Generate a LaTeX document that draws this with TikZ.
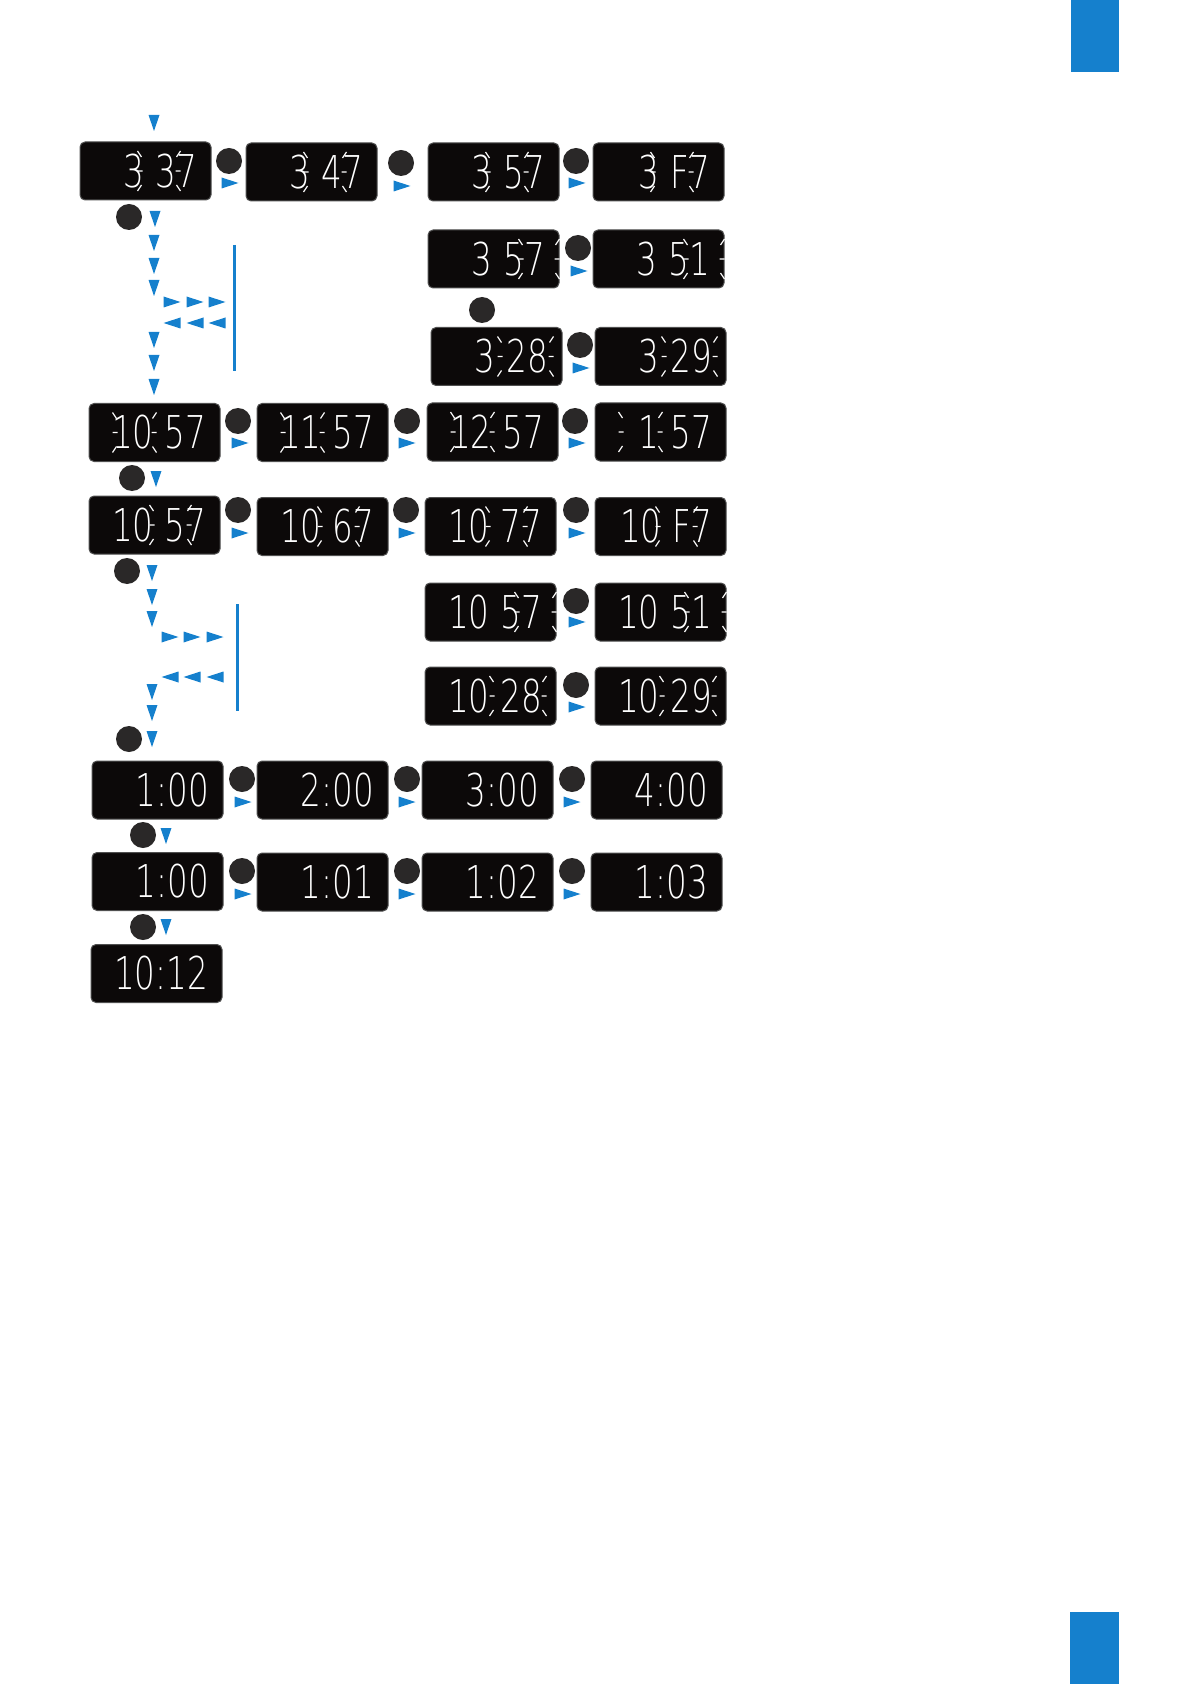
\documentclass[tikz,border=0pt]{standalone}
\usepackage{fontspec}
\usepackage{tikz}
\usetikzlibrary{calc}
\newfontfamily\lcdfont{DejaVu Sans}[UprightFont={* ExtraLight},FakeStretch=0.72]

\definecolor{tabblue}{RGB}{21,128,205}
\definecolor{lcdblack}{RGB}{12,9,9}
\definecolor{lcdedge}{RGB}{80,80,80}
\definecolor{btngray}{RGB}{42,40,40}

\newcommand\nocolon{\phantom{:}}
\newcommand\nodigit{\phantom{0}}
% blinking marks left and right of the flashing digits
\newcommand\rays[3]{%
  \path (#1.east) ++(#2,0) coordinate (rl) (#1.east) ++(#3,0) coordinate (rr);
  \draw[ray] (rl) ++(-3,-20) -- ++(4,6) (rl) ++(-3,0) -- ++(5,0) (rl) ++(1,14) -- ++(-4,6)
             (rr) ++(3,-20) -- ++(-4,6) (rr) ++(-2,0) -- ++(5,0) (rr) ++(-1,14) -- ++(4,6);}

\tikzset{
  lcd/.style={rectangle, rounded corners=2.5pt, fill=lcdblack, draw=lcdedge, line width=0.5pt,
    minimum height=29pt, text width=51.5pt, align=flush right, inner xsep=7pt, inner ysep=0pt,
    font=\lcdfont\fontsize{22.6}{24}\selectfont, text=white},
  btn/.style={circle, fill=btngray, minimum size=13pt, inner sep=0pt},
  ray/.style={white, line width=0.6pt},
  tdown/.pic={\fill[tabblue] (-5.5,-8) -- (5.5,-8) -- (0,8) -- cycle;},
  tright/.pic={\fill[tabblue] (-8.5,-5.5) -- (8.5,0) -- (-8.5,5.5) -- cycle;},
  tleft/.pic={\fill[tabblue] (8.5,-5.5) -- (-8.5,0) -- (8.5,5.5) -- cycle;},
}

\begin{document}
\begin{tikzpicture}[x=0.5pt,y=-0.5pt]
\useasboundingbox (0,0) rectangle (1191,1684);
\fill[tabblue] (1071,0) rectangle (1119,72);
\fill[tabblue] (1070,1612) rectangle (1119,1684);

% hours
\node[lcd] (d1-1) at (145.5,171) {3\nocolon37};
\node[lcd] (d1-2) at (311.5,172) {3\nocolon47};
\node[lcd] (d1-3) at (493.5,172) {3\nocolon57};
\node[lcd] (d1-4) at (658.5,172) {3\nocolon F7};
\node[lcd] (d2-3) at (493.5,259) {3\nocolon57};
\node[lcd] (d2-4) at (658.5,259) {3\nocolon51};
\node[lcd] (d3-3) at (496.5,356.5) {3\nocolon28};
\node[lcd] (d3-4) at (660.5,356.5) {3\nocolon29};
\node[lcd] (d4-1) at (154.5,432.5) {10\nocolon57};
\node[lcd] (d4-2) at (322.5,432.5) {11\nocolon57};
\node[lcd] (d4-3) at (492.5,432) {12\nocolon57};
\node[lcd] (d4-4) at (660.5,432) {\nodigit1\nocolon57};
\node[lcd] (d5-1) at (154.5,525) {10\nocolon57};
\node[lcd] (d5-2) at (322.5,526.5) {10\nocolon67};
\node[lcd] (d5-3) at (490.5,526.5) {10\nocolon77};
\node[lcd] (d5-4) at (660.5,526.5) {10\nocolon F7};
\node[lcd] (d6-3) at (490.5,612) {10\nocolon57};
\node[lcd] (d6-4) at (660.5,612) {10\nocolon51};
\node[lcd] (d7-3) at (490.5,696) {10\nocolon28};
\node[lcd] (d7-4) at (660.5,696) {10\nocolon29};
\node[lcd] (d8-1) at (157.5,790) {1:00};
\node[lcd] (d8-2) at (322.5,790) {2:00};
\node[lcd] (d8-3) at (487.5,790) {3:00};
\node[lcd] (d8-4) at (656.5,790) {4:00};
\node[lcd] (d9-1) at (157.5,881.5) {1:00};
\node[lcd] (d9-2) at (322.5,882) {1:01};
\node[lcd] (d9-3) at (487.5,882) {1:02};
\node[lcd] (d9-4) at (656.5,882) {1:03};
\node[lcd] (d10-1) at (156.5,973.5) {10:12};

\rays{d1-1}{-71}{-34} \rays{d1-2}{-71}{-34} \rays{d1-3}{-71}{-34} \rays{d1-4}{-71}{-34}
\rays{d2-3}{-38}{-3} \rays{d2-4}{-38}{-3}
\rays{d3-3}{-62}{-12} \rays{d3-4}{-62}{-12}
\rays{d4-1}{-105}{-67} \rays{d4-2}{-105}{-67} \rays{d4-3}{-105}{-67} \rays{d4-4}{-105}{-67}
\rays{d5-1}{-68}{-32} \rays{d5-2}{-68}{-32} \rays{d5-3}{-68}{-32} \rays{d5-4}{-68}{-32}
\rays{d6-3}{-39}{-3} \rays{d6-4}{-39}{-3}
\rays{d7-3}{-64}{-13} \rays{d7-4}{-64}{-13}

% buttons
\node[btn] (b1-1) at (229,161) {};
\node[btn] (b1-2) at (401,163) {};
\node[btn] (b1-3) at (576,161) {};
\node[btn] (b1-0) at (129,217) {};
\node[btn] (b2-3) at (578,248) {};
\node[btn] (b3-0) at (482,310) {};
\node[btn] (b3-3) at (580,345) {};
\node[btn] (b4-1) at (238,421) {};
\node[btn] (b4-2) at (407,421) {};
\node[btn] (b4-3) at (575,421) {};
\node[btn] (b4-0) at (132,478) {};
\node[btn] (b5-1) at (238,510) {};
\node[btn] (b5-2) at (406,510) {};
\node[btn] (b5-3) at (576,510) {};
\node[btn] (b5-0) at (127,571) {};
\node[btn] (b6-3) at (576,601) {};
\node[btn] (b7-3) at (576,685) {};
\node[btn] (b8-0) at (129,739) {};
\node[btn] (b8-1) at (242,779) {};
\node[btn] (b8-2) at (407,779) {};
\node[btn] (b8-3) at (572,779) {};
\node[btn] (b9-0) at (143,835) {};
\node[btn] (b9-1) at (242,871) {};
\node[btn] (b9-2) at (407,871) {};
\node[btn] (b9-3) at (572,871) {};
\node[btn] (b10-0) at (143,927) {};

% scroll bars
\coordinate (s1t) at (234,245); \coordinate (s1b) at (234,371);
\coordinate (s2t) at (237,604); \coordinate (s2b) at (237,711);
\draw[tabblue, line width=1.5pt] (s1t) -- (s1b);
\draw[tabblue, line width=1.5pt] (s2t) -- (s2b);

% arrows
\pic at (154,123) {tdown};
\pic at (230,183) {tright}; \pic at (402,186) {tright}; \pic at (577,183) {tright};
\pic at (155,219) {tdown}; \pic at (154,243) {tdown}; \pic at (154,266) {tdown}; \pic at (154,288) {tdown};
\pic at (172,302) {tright}; \pic at (195,302) {tright}; \pic at (217,302) {tright};
\pic at (172,323) {tleft}; \pic at (195,323) {tleft}; \pic at (217,323) {tleft};
\pic at (154,340) {tdown}; \pic at (154,363) {tdown}; \pic at (154,387) {tdown};
\pic at (579,271) {tright}; \pic at (581,368) {tright};
\pic at (240,443) {tright}; \pic at (407,443) {tright}; \pic at (577,443) {tright};
\pic at (156,479) {tdown};
\pic at (240,533) {tright}; \pic at (407,533) {tright}; \pic at (577,533) {tright};
\pic at (152,573) {tdown}; \pic at (152,597) {tdown}; \pic at (152,619) {tdown};
\pic at (170,637) {tright}; \pic at (192,637) {tright}; \pic at (215,637) {tright};
\pic at (170,677) {tleft}; \pic at (192,677) {tleft}; \pic at (215,677) {tleft};
\pic at (152,692) {tdown}; \pic at (152,713) {tdown}; \pic at (152,739) {tdown};
\pic at (577,622) {tright}; \pic at (577,707) {tright};
\pic at (243,802) {tright}; \pic at (407,802) {tright}; \pic at (572,802) {tright};
\pic at (166,836) {tdown};
\pic at (243,894) {tright}; \pic at (407,894) {tright}; \pic at (572,894) {tright};
\pic at (166,927) {tdown};
\end{tikzpicture}
\end{document}
